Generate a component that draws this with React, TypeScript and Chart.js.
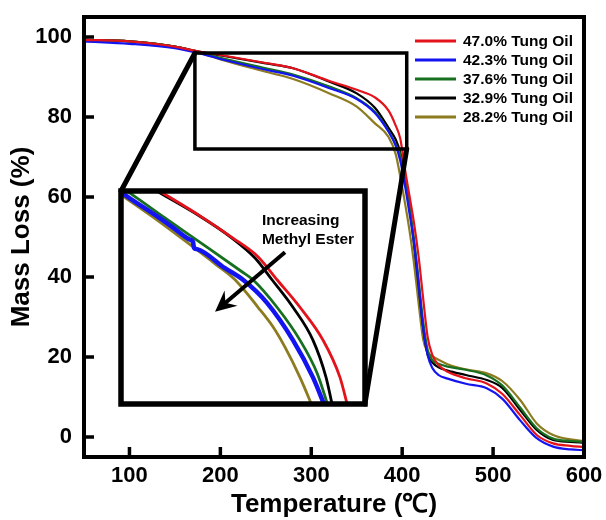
import React, { useEffect, useRef } from "react";
import { Chart, registerables } from "chart.js";

Chart.register(...registerables);

const FONT = "Arial, 'Liberation Sans', Helvetica, sans-serif";

// ---- main chart data ----
const SERIES_LABELS = [
  "47.0% Tung Oil",
  "42.3% Tung Oil",
  "37.6% Tung Oil",
  "32.9% Tung Oil",
  "28.2% Tung Oil",
];
const SERIES_COLORS = ["#e3121b", "#1414f0", "#16701f", "#000000", "#8c7b1f"];

const TEMPS = [50, 100, 150, 175, 200, 250, 280, 320, 350, 370, 385, 393, 398, 403, 408, 413, 418, 423, 428, 433, 440, 450, 470, 493, 510, 530, 548, 566, 585, 600];

const MASS_47_0 = [99.3, 98.9, 97.6, 96.4, 95.5, 93.5, 92.2, 89.0, 86.8, 84.9, 81.6, 77.8, 74.5, 67.0, 60.3, 53.5, 45.2, 34.8, 25.0, 20.6, 18.0, 16.3, 14.7, 13.4, 10.8, 5.4, 0.5, -1.6, -2.2, -2.5];
const MASS_42_3 = [98.9, 98.3, 97.2, 96.0, 94.5, 91.8, 90.3, 87.2, 84.5, 81.0, 76.3, 72.8, 69.0, 63.0, 56.0, 48.5, 38.5, 27.5, 20.5, 17.3, 15.5, 14.6, 13.3, 12.2, 9.6, 4.1, -0.3, -2.4, -3.1, -3.3];
const MASS_37_6 = [99.3, 98.9, 97.6, 96.3, 94.8, 92.2, 90.6, 87.6, 84.7, 81.3, 76.5, 73.0, 70.5, 64.5, 57.5, 49.5, 39.5, 29.0, 21.8, 19.3, 18.3, 17.6, 16.8, 15.4, 12.9, 7.3, 2.2, -0.4, -1.0, -1.2];
const MASS_32_9 = [99.3, 98.9, 97.6, 96.4, 95.4, 93.4, 92.2, 88.8, 85.9, 82.3, 77.3, 74.3, 71.0, 64.9, 57.6, 48.2, 37.8, 27.4, 20.6, 18.7, 17.4, 16.6, 15.5, 14.25, 12.3, 6.7, 1.75, -0.75, -1.2, -1.4];
const MASS_28_2 = [99.3, 98.9, 97.6, 96.2, 94.4, 91.3, 89.5, 85.9, 82.6, 78.4, 75.0, 70.6, 65.0, 58.6, 51.7, 43.4, 33.6, 24.5, 21.2, 20.2, 19.3, 18.2, 16.9, 15.9, 14.0, 9.2, 3.4, 0.5, -0.6, -1.0];

const MAIN_SERIES = [MASS_47_0, MASS_42_3, MASS_37_6, MASS_32_9, MASS_28_2];

const X_TICKS = [100, 200, 300, 400, 500, 600];
const Y_TICKS = [0, 20, 40, 60, 80, 100];
const X_RANGE = [50, 600];
const Y_RANGE = [-5, 105];

// zoom window (main-axis units) and inset box (main-axis units)
const ZOOM_X = [172, 405];
const ZOOM_Y = [72, 96];
const INSET_X = [90.7, 359];
const INSET_Y = [8.25, 61.5];

// ---- inset (magnified) data, in zoom-window units ----
const INSET_T_47_0 = [203, 247.4, 278.9, 302.8, 321.0, 342.9, 364.9, 381.1, 389.0];
const INSET_M_47_0 = [96.4, 93.2, 90.7, 88.6, 86.0, 82.9, 79.2, 75.0, 71.5];
const INSET_T_42_3 = [171, 173.0, 204.5, 222.0, 238.0, 240.8, 241.7, 244.5, 271.3, 288.5, 311.4, 336.2, 355.3, 367.5];
const INSET_M_42_3 = [96.0, 95.8, 93.3, 91.85, 90.5, 90.25, 89.6, 89.45, 87.3, 86.0, 83.4, 79.2, 75.0, 71.5];
const INSET_T_37_6 = [172, 178.7, 214.0, 255.1, 287.5, 298.0, 321.0, 342.9, 359.2, 370.5];
const INSET_M_37_6 = [96.4, 95.9, 92.96, 89.6, 86.9, 86.0, 82.9, 79.2, 75.5, 71.5];
const INSET_T_32_9 = [200, 245.5, 278.0, 300.0, 316.2, 336.2, 355.3, 367.8, 374.4];
const INSET_M_32_9 = [96.4, 93.3, 90.7, 88.45, 86.0, 82.9, 79.2, 75.0, 71.5];
const INSET_T_28_2 = [171, 209.2, 240.8, 261.8, 280.9, 302.8, 317.1, 328.6, 342.9, 355.6];
const INSET_M_28_2 = [95.65, 92.5, 89.7, 87.8, 86.0, 82.9, 80.7, 78.4, 75.0, 71.5];

const INSET_T = [INSET_T_47_0, INSET_T_42_3, INSET_T_37_6, INSET_T_32_9, INSET_T_28_2];
const INSET_M = [INSET_M_47_0, INSET_M_42_3, INSET_M_37_6, INSET_M_32_9, INSET_M_28_2];

const ANNOT_LINES = ["Increasing", "Methyl Ester"];
const ANNOT_POS = [306.6, 92.7, 90.5]; // x, y line1, y line2
const ARROW_FROM = [328.6, 89.1];
const ARROW_TO = [261.8, 82.4];

const framePlugin = {
  id: "frame",
  afterDatasetsDraw(chart: any) {
    const { ctx, chartArea: a, scales } = chart;
    ctx.save();
    ctx.strokeStyle = "#000";
    ctx.lineWidth = 4;
    ctx.strokeRect(a.left, a.top, a.right - a.left, a.bottom - a.top);
    ctx.lineWidth = 3.5;
    ctx.beginPath();
    X_TICKS.forEach((v) => {
      const x = scales.x.getPixelForValue(v);
      ctx.moveTo(x, a.bottom);
      ctx.lineTo(x, a.bottom - 10);
    });
    Y_TICKS.forEach((v) => {
      const y = scales.y.getPixelForValue(v);
      ctx.moveTo(a.left, y);
      ctx.lineTo(a.left + 10, y);
    });
    ctx.stroke();

    // zoom window
    const xs = scales.x, ys = scales.y;
    const zl = xs.getPixelForValue(ZOOM_X[0]);
    const zr = xs.getPixelForValue(ZOOM_X[1]);
    const zt = ys.getPixelForValue(ZOOM_Y[1]);
    const zb = ys.getPixelForValue(ZOOM_Y[0]);
    ctx.lineWidth = 3.5;
    ctx.strokeRect(zl, zt, zr - zl, zb - zt);
    // connectors
    const il = xs.getPixelForValue(INSET_X[0]);
    const ir = xs.getPixelForValue(INSET_X[1]);
    const it = ys.getPixelForValue(INSET_Y[1]);
    const ib = ys.getPixelForValue(INSET_Y[0]);
    ctx.lineWidth = 5;
    ctx.lineCap = "round";
    ctx.beginPath();
    ctx.moveTo(zl, zt);
    ctx.lineTo(il, it);
    ctx.moveTo(zr, zb);
    ctx.lineTo(ir, ib);
    ctx.stroke();
    ctx.restore();
  },
  afterDraw(chart: any) {
    const { ctx, chartArea: a } = chart;
    ctx.save();
    ctx.font = `bold 15.5px ${FONT}`;
    ctx.textBaseline = "middle";
    ctx.textAlign = "left";
    ctx.fillStyle = "#000";
    chart.data.datasets.forEach((ds: any, i: number) => {
      const y = a.top + 24 + i * 19;
      ctx.strokeStyle = ds.borderColor;
      ctx.lineWidth = 3;
      ctx.beginPath();
      ctx.moveTo(a.right - 169, y);
      ctx.lineTo(a.right - 128, y);
      ctx.stroke();
      ctx.fillText(ds.label, a.right - 121, y + 1);
    });
    ctx.restore();
  },
};

const insetPlugin = {
  id: "insetDecor",
  afterDraw(chart: any) {
    const { ctx, chartArea: a, scales } = chart;
    const xs = scales.x, ys = scales.y;
    ctx.save();
    // arrow
    const x0 = xs.getPixelForValue(ARROW_FROM[0]);
    const y0 = ys.getPixelForValue(ARROW_FROM[1]);
    const x1 = xs.getPixelForValue(ARROW_TO[0]);
    const y1 = ys.getPixelForValue(ARROW_TO[1]);
    const dx = x1 - x0, dy = y1 - y0;
    const len = Math.hypot(dx, dy);
    const ux = dx / len, uy = dy / len;
    const nx = -uy, ny = ux;
    const L = 21, W = 10;
    ctx.strokeStyle = "#000";
    ctx.fillStyle = "#000";
    ctx.lineWidth = 4;
    ctx.beginPath();
    ctx.moveTo(x0, y0);
    ctx.lineTo(x1 - ux * L * 0.6, y1 - uy * L * 0.6);
    ctx.stroke();
    ctx.beginPath();
    ctx.moveTo(x1, y1);
    ctx.lineTo(x1 - ux * L + nx * W, y1 - uy * L + ny * W);
    ctx.lineTo(x1 - ux * L * 0.65, y1 - uy * L * 0.65);
    ctx.lineTo(x1 - ux * L - nx * W, y1 - uy * L - ny * W);
    ctx.closePath();
    ctx.fill();
    // annotation text
    ctx.font = `bold 15.5px ${FONT}`;
    ctx.textBaseline = "middle";
    ctx.textAlign = "left";
    const tx = xs.getPixelForValue(ANNOT_POS[0]);
    ctx.fillText(ANNOT_LINES[0], tx, ys.getPixelForValue(ANNOT_POS[1]));
    ctx.fillText(ANNOT_LINES[1], tx, ys.getPixelForValue(ANNOT_POS[2]));
    // border
    ctx.lineWidth = 5.5;
    ctx.strokeRect(a.left, a.top, a.right - a.left, a.bottom - a.top);
    ctx.restore();
  },
};

export default function App() {
  const mainRef = useRef<HTMLCanvasElement>(null);
  const insetRef = useRef<HTMLCanvasElement>(null);

  useEffect(() => {
    const main = new Chart(mainRef.current as HTMLCanvasElement, {
      type: "line",
      data: {
        datasets: MAIN_SERIES.map((vals, i) => ({
          label: SERIES_LABELS[i],
          data: TEMPS.map((t, j) => ({ x: t, y: vals[j] })),
          borderColor: SERIES_COLORS[i],
          backgroundColor: SERIES_COLORS[i],
          borderWidth: 2.2,
          pointRadius: 0,
          fill: false,
          cubicInterpolationMode: "monotone" as const,
        })),
      },
      options: {
        responsive: false,
        animation: false,
        devicePixelRatio: 1,
        layout: { padding: { top: 17, right: 22, left: 0, bottom: 0 } },
        plugins: { legend: { display: false }, tooltip: { enabled: false } },
        scales: {
          x: {
            type: "linear",
            min: X_RANGE[0],
            max: X_RANGE[1],
            afterBuildTicks: (s: any) => {
              s.ticks = X_TICKS.map((v) => ({ value: v }));
            },
            afterFit: (s: any) => {
              s.height = 63;
              s.paddingLeft = 0;
              s.paddingRight = 0;
            },
            grid: { display: false, drawTicks: false },
            border: { display: false },
            ticks: {
              color: "#000",
              padding: 6,
              maxRotation: 0,
              autoSkip: false,
              font: { family: FONT, size: 22, weight: "bold" },
            },
            title: {
              display: true,
              text: "Temperature (℃)",
              color: "#000",
              font: { family: FONT, size: 26, weight: "bold" },
              padding: { top: 0, bottom: 0 },
            },
          },
          y: {
            type: "linear",
            min: Y_RANGE[0],
            max: Y_RANGE[1],
            afterBuildTicks: (s: any) => {
              s.ticks = Y_TICKS.map((v) => ({ value: v }));
            },
            afterFit: (s: any) => {
              s.width = 84;
              s.paddingTop = 0;
              s.paddingBottom = 0;
            },
            grid: { display: false, drawTicks: false },
            border: { display: false },
            ticks: {
              color: "#000",
              padding: 12,
              autoSkip: false,
              font: { family: FONT, size: 22, weight: "bold" },
            },
            title: {
              display: true,
              text: "Mass Loss (%)",
              color: "#000",
              font: { family: FONT, size: 26, weight: "bold" },
              padding: { top: 6, bottom: 0 },
            },
          },
        },
      },
      plugins: [framePlugin],
    });

    const xs: any = main.scales.x;
    const ys: any = main.scales.y;
    const PAD = 8;
    const L = Math.round(xs.getPixelForValue(INSET_X[0]));
    const R = Math.round(xs.getPixelForValue(INSET_X[1]));
    const T = Math.round(ys.getPixelForValue(INSET_Y[1]));
    const B = Math.round(ys.getPixelForValue(INSET_Y[0]));
    const ic = insetRef.current as HTMLCanvasElement;
    ic.width = R - L + 2 * PAD;
    ic.height = B - T + 2 * PAD;
    ic.style.left = `${L - PAD}px`;
    ic.style.top = `${T - PAD}px`;
    ic.style.width = `${R - L + 2 * PAD}px`;
    ic.style.height = `${B - T + 2 * PAD}px`;

    const inset = new Chart(ic, {
      type: "line",
      data: {
        datasets: INSET_T.map((ts, i) => ({
          label: SERIES_LABELS[i],
          data: ts.map((t, j) => ({ x: t, y: INSET_M[i][j] })),
          borderColor: SERIES_COLORS[i],
          borderWidth: i === 1 ? 4.5 : 2.8,
          pointRadius: 0,
          fill: false,
          cubicInterpolationMode: "monotone" as const,
        })),
      },
      options: {
        responsive: false,
        animation: false,
        devicePixelRatio: 1,
        layout: { padding: PAD },
        plugins: { legend: { display: false }, tooltip: { enabled: false } },
        scales: {
          x: { type: "linear", min: ZOOM_X[0], max: ZOOM_X[1], display: false },
          y: { type: "linear", min: ZOOM_Y[0], max: ZOOM_Y[1], display: false },
        },
      },
      plugins: [insetPlugin],
    });

    return () => {
      inset.destroy();
      main.destroy();
    };
  }, []);

  return (
    <div style={{ position: "fixed", left: 0, top: 0, width: 606, height: 520, background: "#fff" }}>
      <canvas
        ref={mainRef}
        width={606}
        height={520}
        style={{ position: "absolute", left: 0, top: 0, width: 606, height: 520 }}
      />
      <canvas ref={insetRef} style={{ position: "absolute" }} />
    </div>
  );
}
